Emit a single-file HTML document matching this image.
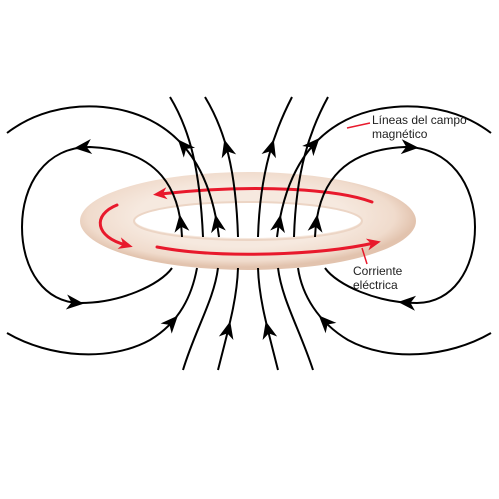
<!DOCTYPE html>
<html><head><meta charset="utf-8"><style>
html,body{margin:0;padding:0;background:#fff;}
svg{display:block;}
text{font-family:"Liberation Sans",sans-serif;font-size:12px;fill:#222;}
</style></head><body>
<svg id="s" width="499" height="499" viewBox="0 0 499 499">
<defs>
<radialGradient id="rg" cx="0.48" cy="0.45" r="0.52">
<stop offset="0.6" stop-color="#f6e9df"/>
<stop offset="0.88" stop-color="#f0dbcc"/>
<stop offset="1" stop-color="#e2c3ae"/>
</radialGradient>
</defs>
<rect width="499" height="499" fill="#fff"/>
<path fill="url(#rg)" fill-rule="evenodd"
 d="M80,221 A168,49 0 1,0 416,221 A168,49 0 1,0 80,221 Z M135,220 A113,18 0 1,1 361,220 A113,18 0 1,1 135,220 Z"/>
<ellipse cx="248" cy="221" rx="114" ry="19" fill="none" stroke="#ecd5c5" stroke-width="2"/>
<g id="red" fill="none" stroke="#e8192c" stroke-width="3" stroke-linecap="round">
<path id="r1" d="M372,202 C340,190 260,183 160,194"/>
<path id="r2" d="M117,205 C92,215 95,237 126,245"/>
<path id="r3" d="M157,247 C220,259 320,255 374,243"/>
</g>
<g id="lines" fill="none" stroke="#000" stroke-width="2"></g>
<g id="heads"></g>
<line x1="347" y1="128" x2="370" y2="123" stroke="#e8192c" stroke-width="1.5"/>
<line x1="362" y1="248" x2="367" y2="264" stroke="#e8192c" stroke-width="1.5"/>
<text x="372" y="124">Líneas del campo</text>
<text x="372" y="138">magnético</text>
<text x="353" y="275">Corriente</text>
<text x="353" y="289">eléctrica</text>
</svg>
<script>
var NS="http://www.w3.org/2000/svg";
var fieldPaths=[
 ["left-inner-loop","M182,237 C180,190 160,150 90,147 C45,147 22,185 22,227 C22,270 45,303 80,303 C120,303 160,285 172,268",[[182,223],[83,148],[75,303]]],
 ["left-outer-top","M219,237 C212,180 190,140 150,120 C110,100 50,100 7,133",[[219,223],[177,152]]],
 ["left-outer-bottom","M7,333 C50,358 110,362 150,340 C180,322 192,295 197,268",[[170,320]]],
 ["center-line-1","M203,237 C200,170 190,130 170,97",[]],
 ["center-line-2","M238,237 C236,170 225,130 205,97",[[227,148]]],
 ["center-line-3","M258,237 C260,170 275,130 292,97",[[272,148]]],
 ["center-line-4","M294,237 C296,170 310,130 328,97",[]],
 ["right-inner-loop","M315,237 C317,190 337,150 405,147 C450,147 475,185 475,227 C475,270 452,303 417,303 C377,303 337,285 325,268",[[315,223],[410,148],[407,303]]],
 ["right-outer-top","M277,237 C284,180 306,140 346,120 C386,100 448,100 491,133",[[277,223],[320,150]]],
 ["right-outer-bottom","M491,333 C448,358 388,362 348,340 C318,322 302,295 298,268",[[327,320]]],
 ["bottom-line-1","M183,370 C195,330 214,300 218,268",[]],
 ["bottom-line-2","M218,370 C228,330 237,300 238,268",[[230,330]]],
 ["bottom-line-3","M278,370 C268,330 259,300 258,268",[[267,330]]],
 ["bottom-line-4","M313,370 C300,330 282,300 278,268",[]]
];
var g=document.getElementById('lines'),h=document.getElementById('heads');
function head(p,tx,ty,col,sc,name){
 var a=Math.atan2(ty,tx)*180/Math.PI;
 var el=document.createElementNS(NS,'path');
 el.setAttribute('d','M7,0 L-7,-6 L-3,0 L-7,6 Z');
 el.setAttribute('fill',col);
 el.setAttribute('transform','translate('+p.x+','+p.y+') rotate('+a+') scale('+sc+')');
 
 
 h.appendChild(el);
}
fieldPaths.forEach(function(f){
 var p=document.createElementNS(NS,'path');
 p.setAttribute('d',f[1]);
 
 
 g.appendChild(p);
 var L=p.getTotalLength();
 f[2].forEach(function(t){
  var best=0,bd=1e9;
  for(var s=0;s<=L;s+=0.5){var q=p.getPointAtLength(s);var d=(q.x-t[0])*(q.x-t[0])+(q.y-t[1])*(q.y-t[1]);if(d<bd){bd=d;best=s;}}
  var a=p.getPointAtLength(Math.max(0,best-2)),b=p.getPointAtLength(Math.min(L,best+2)),c=p.getPointAtLength(best);
  head(c,b.x-a.x,b.y-a.y,'#000',1.25,'field-arrowhead');
 });
});
['r1','r2','r3'].forEach(function(id){
 var p=document.getElementById(id),L=p.getTotalLength();
 var a=p.getPointAtLength(L-3),b=p.getPointAtLength(L);
 head(b,b.x-a.x,b.y-a.y,'#e8192c',1.0,'current-arrowhead');
});
</script>
</body></html>
